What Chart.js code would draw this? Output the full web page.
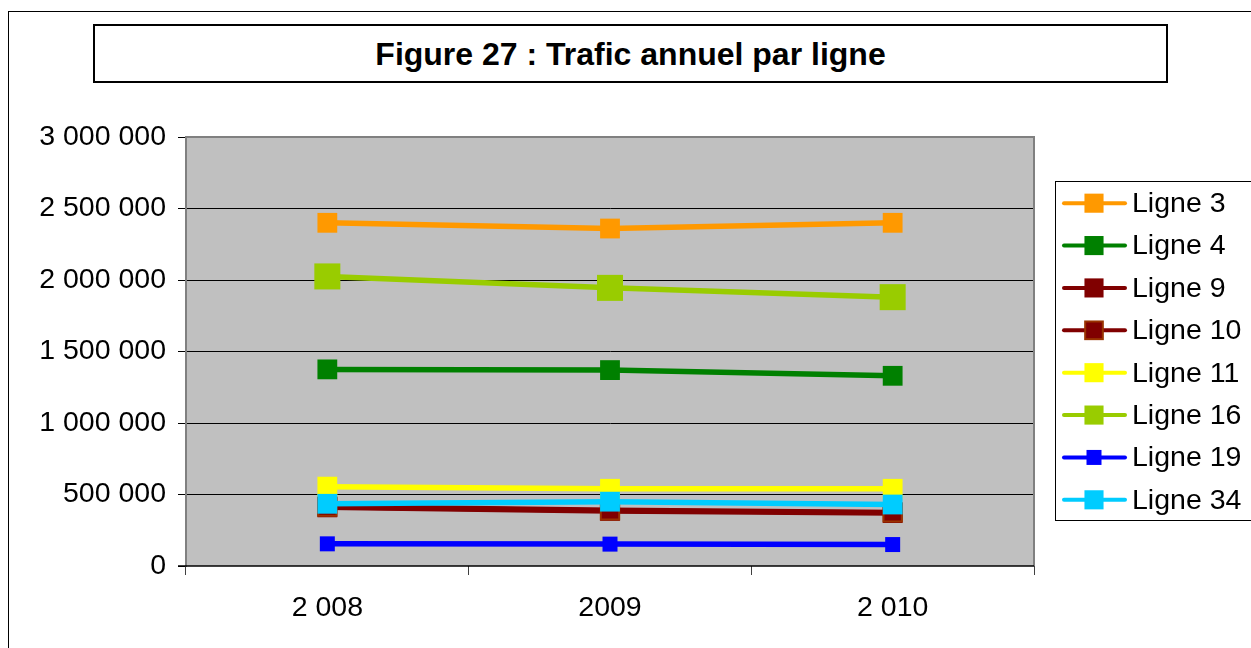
<!DOCTYPE html>
<html>
<head>
<meta charset="utf-8">
<script src="https://cdn.jsdelivr.net/npm/chart.js@4.4.1/dist/chart.umd.min.js"></script>
<style>
  html, body { margin: 0; padding: 0; background: #fff; overflow: hidden; }
  body { width: 1251px; height: 648px; position: relative; font-family: "Liberation Sans", Arial, sans-serif; }
  #outer { position: absolute; left: 8px; top: 11px; width: 1400px; height: 800px; border-left: 1px solid #000; border-top: 1px solid #000; box-sizing: border-box; }
  #title { position: absolute; left: 93px; top: 24px; width: 1075px; height: 59px; border: 2px solid #000; box-sizing: border-box;
           display: flex; align-items: center; justify-content: center; font-weight: bold; font-size: 32px; color: #000; background: #fff; padding-top: 2px; }
  #c { position: absolute; left: 0; top: 0; }
</style>
</head>
<body>
<div id="outer"></div>
<div id="title">Figure 27 : Trafic annuel par ligne</div>
<canvas id="c" width="1251" height="648"></canvas>
<script>
// ---- data ----
const categories = ['2 008', '2009', '2 010'];
const seriesNames = ['Ligne 3', 'Ligne 4', 'Ligne 9', 'Ligne 10', 'Ligne 11', 'Ligne 16', 'Ligne 19', 'Ligne 34'];
const ligne3  = [2400000, 2360000, 2400000];
const ligne4  = [1375000, 1370000, 1330000];
const ligne9  = [410000, 385000, 370000];
const ligne10 = [415000, 390000, 375000];
const ligne11 = [555000, 540000, 540000];
const ligne16 = [2025000, 1945000, 1880000];
const ligne19 = [155000, 153000, 150000];
const ligne34 = [435000, 450000, 430000];
const yMin = 0, yMax = 3000000, yStep = 500000;

// ---- styles ----
const FONT = '"Liberation Sans", Arial, sans-serif';
const seriesValues = [ligne3, ligne4, ligne9, ligne10, ligne11, ligne16, ligne19, ligne34];
const styles = [
  { color: '#FF9900', fill: '#FF9900', border: '#FF9900', bw: 0, r: 14, lr: 13.5 },
  { color: '#008000', fill: '#008000', border: '#008000', bw: 0, r: 14, lr: 13.5 },
  { color: '#800000', fill: '#800000', border: '#800000', bw: 0, r: 14, lr: 13.5 },
  { color: '#800000', fill: '#800000', border: '#993300', bw: 2, r: 13, lr: 12.5 },
  { color: '#FFFF00', fill: '#FFFF00', border: '#FFFF00', bw: 0, r: 14, lr: 13.5 },
  { color: '#99CC00', fill: '#99CC00', border: '#99CC00', bw: 0, r: 18.4, lr: 13.5 },
  { color: '#0000FF', fill: '#0000FF', border: '#0000FF', bw: 0, r: 10.6, lr: 10.6 },
  { color: '#00CCFF', fill: '#00CCFF', border: '#00CCFF', bw: 0, r: 14, lr: 13.5 }
];

const N = seriesNames.length;
const datasets = seriesNames.map((name, i) => ({
  label: name,
  data: seriesValues[i],
  borderColor: styles[i].color,
  backgroundColor: styles[i].fill,
  borderWidth: 5.5,
  tension: 0,
  fill: false,
  pointStyle: 'rect',
  pointRadius: styles[i].r,
  pointBackgroundColor: styles[i].fill,
  pointBorderColor: styles[i].border,
  pointBorderWidth: styles[i].bw,
  legendRadius: styles[i].lr,
  order: N - i,
  clip: false
}));

function fmt(v) { return String(v).replace(/\B(?=(\d{3})+(?!\d))/g, ' '); }

const plotPlugin = {
  id: 'plotBg',
  beforeDraw(chart) {
    const { ctx, chartArea: a } = chart;
    ctx.save();
    ctx.fillStyle = '#C0C0C0';
    ctx.fillRect(a.left, a.top, a.right - a.left, a.bottom - a.top);
    ctx.restore();
  },
  beforeDatasetsDraw(chart) {
    const { ctx, chartArea: a } = chart;
    ctx.save();
    ctx.strokeStyle = '#808080';
    ctx.lineWidth = 2;
    ctx.beginPath();
    ctx.moveTo(a.left, a.top);
    ctx.lineTo(a.right, a.top);
    ctx.lineTo(a.right, a.bottom);
    ctx.stroke();
    ctx.strokeStyle = '#000';
    ctx.lineWidth = 1.5;
    ctx.beginPath();
    ctx.moveTo(a.left - 8, a.bottom);
    ctx.lineTo(a.right, a.bottom);
    ctx.stroke();
    ctx.restore();
  }
};

const legendPlugin = {
  id: 'excelLegend',
  afterDraw(chart) {
    const { ctx, chartArea: a } = chart;
    const x0 = a.right + 21, y0 = 181, y1 = 520;
    ctx.save();
    ctx.fillStyle = '#fff';
    ctx.fillRect(x0, y0, 300, y1 - y0);
    ctx.strokeStyle = '#000';
    ctx.lineWidth = 1;
    ctx.strokeRect(x0 + 0.5, y0 + 0.5, 400, y1 - y0);
    const step = (y1 - y0) / chart.data.datasets.length;
    chart.data.datasets.forEach((ds, i) => {
      const yc = y0 + step * (i + 0.5) + 1;
      ctx.strokeStyle = ds.borderColor;
      ctx.lineWidth = 4;
      ctx.lineCap = 'round';
      ctx.beginPath();
      ctx.moveTo(x0 + 9, yc);
      ctx.lineTo(x0 + 70, yc);
      ctx.stroke();
      const s = ds.legendRadius * Math.SQRT1_2;
      ctx.fillStyle = ds.pointBackgroundColor;
      ctx.fillRect(x0 + 39 - s, yc - s, 2 * s, 2 * s);
      if (ds.pointBorderWidth > 0) {
        ctx.strokeStyle = ds.pointBorderColor;
        ctx.lineWidth = ds.pointBorderWidth;
        ctx.strokeRect(x0 + 39 - s, yc - s, 2 * s, 2 * s);
      }
      ctx.fillStyle = '#000';
      ctx.font = '28.5px ' + FONT;
      ctx.textBaseline = 'middle';
      ctx.textAlign = 'left';
      ctx.fillText(ds.label, x0 + 77, yc + 1);
    });
    ctx.restore();
  }
};

new Chart(document.getElementById('c'), {
  type: 'line',
  data: { labels: categories, datasets },
  plugins: [plotPlugin, legendPlugin],
  options: {
    responsive: false,
    devicePixelRatio: 1,
    animation: false,
    events: [],
    layout: { padding: { top: 137, right: 217, bottom: 0, left: 0 } },
    plugins: { legend: { display: false }, title: { display: false }, tooltip: { enabled: false } },
    scales: {
      x: {
        type: 'category',
        offset: true,
        grid: { display: true, offset: true, drawOnChartArea: false, drawTicks: true, tickLength: 9, color: '#404040', lineWidth: 1 },
        border: { display: false },
        ticks: { color: '#000', font: { family: FONT, size: 28.5 }, padding: 16, maxRotation: 0 },
        afterFit(scale) { scale.height = 82; }
      },
      y: {
        min: yMin, max: yMax,
        grid: {
          color: (c) => (c.tick && c.tick.value === yMax) ? '#808080' : (c.tick && c.tick.value === yMin ? 'rgba(0,0,0,0)' : '#000'),
          lineWidth: 1, tickLength: 8, tickColor: '#000', drawTicks: true
        },
        border: { display: true, color: '#808080', width: 2 },
        ticks: { stepSize: yStep, color: '#000', font: { family: FONT, size: 28.5 }, padding: 12, callback: (v) => fmt(v) },
        afterFit(scale) { scale.width = 186; }
      }
    }
  }
});
</script>
</body>
</html>
